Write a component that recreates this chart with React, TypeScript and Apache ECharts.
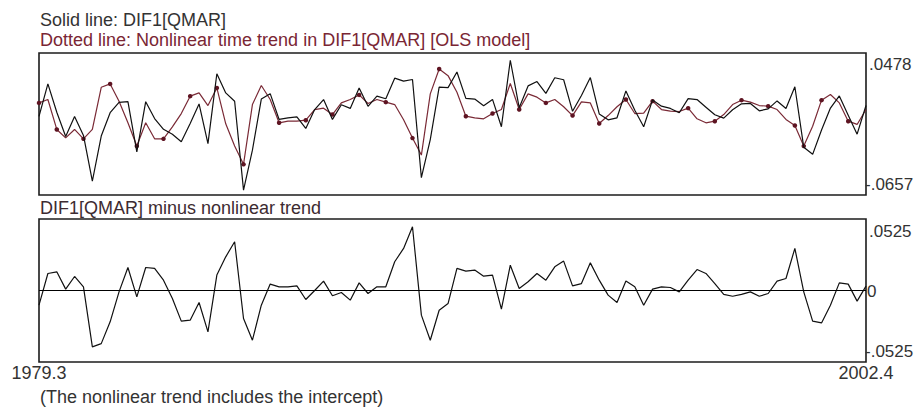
import React, { useEffect, useRef } from "react";
import * as echarts from "echarts";

// Quarterly categories 1979.3 .. 2002.4
const startYear = 1979;
const startQuarter = 3;
const endYear = 2002;
const endQuarter = 4;
const categories: string[] = [];
for (let y = startYear; y <= endYear; y++) {
  for (let q = 1; q <= 4; q++) {
    if (y === startYear && q < startQuarter) continue;
    if (y === endYear && q > endQuarter) continue;
    categories.push(`${y}.${q}`);
  }
}

// DIF1[QMAR] (solid line)
const actual: number[] = [
  -0.0029, 0.0231, 0.0004, -0.019, -0.003, -0.0181, -0.0547, -0.0186, 0.0001, 0.0083,
  0.0089, -0.0313, 0.0089, -0.0046, -0.0132, -0.0171, -0.0231, -0.0085, 0.0071, -0.0246,
  0.0312, 0.0159, 0.0092, -0.0618, -0.0299, 0.011, 0.0153, -0.0053, -0.004, -0.0033,
  -0.0125, 0.0026, 0.0106, -0.0053, 0.0064, 0.0035, 0.0199, 0.0052, 0.0133, 0.0112,
  0.0277, 0.0253, 0.0266, -0.0519, -0.0214, 0.0205, 0.0201, 0.0326, 0.0115, 0.011,
  0.0057, 0.0107, -0.0111, 0.042, 0.0041, 0.0215, 0.025, 0.0155, 0.028, 0.0264,
  0.0012, 0.0138, 0.0282, -0.0009, -0.0056, -0.004, 0.0175, 0.0021, -0.0111, 0.0103,
  0.0053, 0.0035, 0.0, 0.0113, 0.0106, 0.0045, -0.0016, -0.0043, 0.0024, 0.0072,
  0.0075, 0.0016, 0.0031, 0.0095, 0.0035, 0.0208, -0.0276, -0.0332, -0.0137, 0.0038,
  0.0135, -0.002, -0.0171, 0.0058,
];

// Nonlinear time trend (dotted line)
const trend: number[] = [
  0.0079, 0.0106, -0.0133, -0.02, -0.0133, -0.0208, -0.0133, 0.0204, 0.0231, 0.0093,
  -0.008, -0.0266, -0.008, -0.0208, -0.0208, -0.0112, -0.0006, 0.0133, 0.0159, 0.0058,
  0.0199, -0.0088, -0.0266, -0.0412, 0.0066, 0.0218, 0.0106, -0.008, -0.0067, -0.0067,
  -0.0059, 0.0026, 0.0037, -0.0014, 0.0079, 0.0106, 0.0143, 0.0074, 0.0106, 0.0085,
  0.0066, -0.0056, -0.0202, -0.0338, 0.0151, 0.035, 0.0297, 0.0164, -0.0027, -0.004,
  -0.0048, -0.0006, 0.0026, 0.0234, 0.0026, 0.0151, 0.0125, 0.0079, 0.0106, 0.0048,
  -0.0022, 0.0087, 0.0079, -0.0085, -0.0022, 0.0048, 0.0106, -0.0006, -0.0003, 0.0093,
  0.0026, 0.0013, 0.001, 0.0037, -0.0048, -0.008, -0.0067, -0.0014, 0.0066, 0.0101,
  0.0085, 0.0058, 0.0053, 0.0026, -0.0053, -0.0101, -0.0266, -0.0107, 0.0101, 0.0146,
  0.0079, -0.0067, -0.0093, 0.0026,
];

// DIF1[QMAR] minus nonlinear trend
const residual: number[] = [
  -0.0108, 0.0125, 0.0137, 0.001, 0.0103, 0.0027, -0.0414, -0.039, -0.023, -0.001,
  0.0169, -0.0047, 0.0169, 0.0162, 0.0076, -0.0059, -0.0225, -0.0218, -0.0088, -0.0304,
  0.0113, 0.0247, 0.0358, -0.0206, -0.0365, -0.0108, 0.0047, 0.0027, 0.0027, 0.0034,
  -0.0066, 0.0, 0.0069, -0.0039, -0.0015, -0.0071, 0.0056, -0.0022, 0.0027, 0.0027,
  0.0211, 0.0309, 0.0468, -0.0181, -0.0365, -0.0145, -0.0096, 0.0162, 0.0142, 0.015,
  0.0105, 0.0113, -0.0137, 0.0186, 0.0015, 0.0064, 0.0125, 0.0076, 0.0174, 0.0216,
  0.0034, 0.0051, 0.0203, 0.0076, -0.0034, -0.0088, 0.0069, 0.0027, -0.0108, 0.001,
  0.0027, 0.0022, -0.001, 0.0076, 0.0154, 0.0125, 0.0051, -0.0029, -0.0042, -0.0029,
  -0.001, -0.0042, -0.0022, 0.0069, 0.0088, 0.0309, -0.001, -0.0225, -0.0238, -0.0108,
  0.0056, 0.0047, -0.0078, 0.0032,
];

// Points on the trend line that carry a dot marker
const dotIndices: number[] = [
  0, 2, 5, 8, 11, 14, 17, 20, 23, 27, 30, 33, 36, 39, 42, 45, 48, 51, 54, 57, 60, 63, 66,
  69, 73, 76, 79, 82, 85, 86, 88, 91,
];

const topRange = { min: -0.0657, max: 0.0478 };
const bottomRange = { min: -0.0525, max: 0.0525 };
const topTickLabels = [".0478", "-.0657"];
const bottomTickLabels = [".0525", "0", "-.0525"];

const legendSolid = "Solid line: DIF1[QMAR]";
const legendDotted = "Dotted line: Nonlinear time trend in DIF1[QMAR] [OLS model]";
const bottomTitle = "DIF1[QMAR] minus nonlinear trend";
const footnote = "(The nonlinear trend includes the intercept)";

const FONT = "'Liberation Sans', Arial, sans-serif";
const FS = 18;
const FS_TICK = 17;

export default function App() {
  const ref = useRef<HTMLDivElement>(null);
  useEffect(() => {
    if (!ref.current) return;
    const chart = echarts.init(ref.current, undefined, { renderer: "svg" });
    const L = 39;
    const W = 827;
    const T1 = 53;
    const H1 = 142;
    const T2 = 219;
    const H2 = 143;
    const dotSet = new Set(dotIndices);
    const txt = (text: string, x: number, y: number, color = "#333", size = FS) => ({
      type: "text",
      x,
      y,
      silent: true,
      style: {
        text,
        fill: color,
        font: `${size}px ${FONT}`,
        textAlign: "left",
        textVerticalAlign: "middle",
      },
    });
    chart.setOption({
      animation: false,
      backgroundColor: "#fff",
      grid: [
        { left: L, top: T1, width: W, height: H1, show: true, borderColor: "#1c1c1c", borderWidth: 1.6, backgroundColor: "#fff" },
        { left: L, top: T2, width: W, height: H2, show: true, borderColor: "#1c1c1c", borderWidth: 1.6, backgroundColor: "#fff" },
      ],
      xAxis: [
        {
          type: "category",
          gridIndex: 0,
          data: categories,
          boundaryGap: false,
          axisLine: { show: false },
          axisTick: { show: false },
          axisLabel: { show: false },
          splitLine: { show: false },
        },
        {
          type: "category",
          gridIndex: 1,
          data: categories,
          boundaryGap: false,
          axisLine: { show: false },
          axisTick: { show: false },
          axisLabel: {
            show: true,
            interval: (i: number) => i === 0 || i === categories.length - 1,
            color: "#333",
            fontSize: FS,
            fontFamily: FONT,
            margin: 2,
          },
          splitLine: { show: false },
        },
      ],
      yAxis: [
        { type: "value", gridIndex: 0, min: topRange.min, max: topRange.max, show: false, splitLine: { show: false } },
        { type: "value", gridIndex: 1, min: bottomRange.min, max: bottomRange.max, show: false, splitLine: { show: false } },
      ],
      series: [
        {
          name: "trend",
          type: "line",
          xAxisIndex: 0,
          yAxisIndex: 0,
          data: trend,
          symbol: "circle",
          showSymbol: true,
          showAllSymbol: true,
          symbolSize: (_v: number, p: any) => (dotSet.has(p.dataIndex) ? 4.5 : 0),
          lineStyle: { color: "#7a2a36", width: 1.2 },
          itemStyle: { color: "#5e1422", borderWidth: 0 },
          silent: true,
          z: 2,
        },
        {
          name: "DIF1[QMAR]",
          type: "line",
          xAxisIndex: 0,
          yAxisIndex: 0,
          data: actual,
          symbol: "none",
          lineStyle: { color: "#111", width: 1.2 },
          silent: true,
          z: 3,
        },
        {
          name: "residual",
          type: "line",
          xAxisIndex: 1,
          yAxisIndex: 1,
          data: residual,
          symbol: "none",
          lineStyle: { color: "#111", width: 1.2 },
          silent: true,
          markLine: {
            silent: true,
            symbol: ["none", "none"],
            label: { show: false },
            lineStyle: { color: "#000", width: 1.2, type: "solid" },
            data: [{ yAxis: 0 }],
          },
        },
      ],
      graphic: [
        txt(legendSolid, 40, 20),
        txt(legendDotted, 40, 40, "#7a2634"),
        txt(bottomTitle, 40, 208, "#3d2b31"),
        txt(topTickLabels[0], 869, 64, "#333", FS_TICK),
        txt(topTickLabels[1], 865, 184, "#333", FS_TICK),
        txt(bottomTickLabels[0], 869, 231, "#333", FS_TICK),
        txt(bottomTickLabels[1], 867, 291, "#333", FS_TICK),
        txt(bottomTickLabels[2], 865, 351, "#333", FS_TICK),
        txt(footnote, 40, 397),
      ],
    });
    return () => chart.dispose();
  }, []);
  return (
    <div
      ref={ref}
      style={{ position: "absolute", left: 0, top: 0, width: 921, height: 410, background: "#fff" }}
    />
  );
}
